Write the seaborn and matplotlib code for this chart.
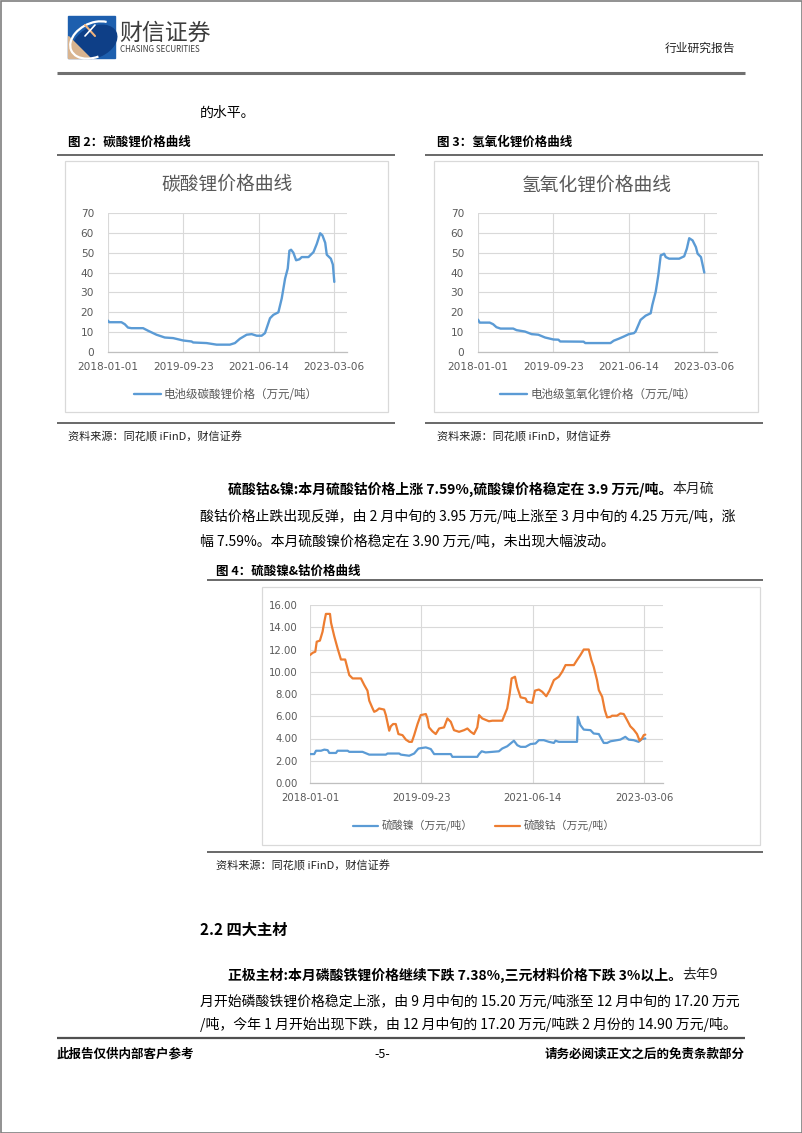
import numpy as np
import pandas as pd
import matplotlib
matplotlib.use("Agg")
import matplotlib.pyplot as plt
import seaborn as sns
from matplotlib.patches import Rectangle, Ellipse, Polygon, Arc

# ---------------- data ----------------
BASE_DATE = "2018-01-01"
x_tick_labels = ["2018-01-01", "2019-09-23", "2021-06-14", "2023-03-06"]

# days since 2018-01-01
li2co3_days = [0, 10, 112, 140, 167, 195, 293, 335, 405, 474, 544, 628, 698, 711, 823, 907, 1018, 1060,
               1102, 1158, 1200, 1242, 1283, 1311, 1353, 1381, 1423, 1451, 1479, 1501, 1515, 1529, 1548,
               1571, 1599, 1618, 1674, 1716, 1744, 1772, 1791, 1814, 1827, 1861, 1878, 1890]
li2co3_price = [15.8, 15.0, 15.0, 14.0, 12.3, 12.0, 12.0, 10.7, 8.7, 7.3, 7.0, 5.8, 5.3, 4.8, 4.5, 3.7,
                3.7, 4.5, 6.7, 8.7, 9.0, 8.2, 8.2, 9.5, 17.0, 18.7, 20.0, 27.0, 37.0, 42.0, 51.0, 51.5,
                50.0, 46.2, 46.7, 47.8, 47.8, 50.3, 54.5, 59.8, 58.7, 55.0, 49.0, 47.0, 44.0, 35.3]

lioh_days = [0, 14, 98, 126, 154, 188, 294, 322, 392, 448, 504, 560, 630, 672, 686, 882, 896, 1106,
             1134, 1176, 1218, 1260, 1302, 1316, 1358, 1400, 1442, 1456, 1484, 1506, 1526, 1540, 1554,
             1568, 1596, 1680, 1722, 1744, 1764, 1792, 1820, 1834, 1862, 1890]
lioh_price = [16.3, 14.8, 14.8, 14.0, 12.5, 11.8, 11.8, 11.0, 10.3, 9.0, 8.7, 7.3, 6.3, 6.2, 5.3, 5.2,
              4.5, 4.5, 5.7, 6.7, 7.8, 9.0, 9.5, 10.3, 16.2, 18.3, 19.5, 23.7, 30.3, 38.7, 48.7, 49.0,
              49.5, 47.8, 47.0, 47.0, 48.2, 52.0, 57.3, 56.2, 52.8, 49.5, 47.8, 40.0]

coso4_days = [0, 15, 30, 38, 56, 71, 81, 90, 113, 119, 137, 156, 175, 199, 222, 241, 288, 307, 325, 335,
              354, 363, 376, 391, 419, 429, 448, 457, 470, 485, 500, 523, 542, 561, 576, 589, 608, 626,
              655, 664, 673, 692, 711, 730, 758, 777, 796, 814, 843, 871, 890, 909, 927, 946, 956, 974,
              1012, 1031, 1087, 1115, 1129, 1140, 1159, 1172, 1191, 1219, 1228, 1257, 1272, 1294, 1313,
              1336, 1354, 1379, 1407, 1426, 1445, 1492, 1510, 1529, 1548, 1576, 1591, 1604, 1623, 1633,
              1652, 1667, 1680, 1699, 1708, 1736, 1755, 1774, 1793, 1811, 1830, 1849, 1864, 1877, 1887,
              1896]
coso4_price = [11.5, 11.7, 11.8, 12.7, 12.8, 13.6, 14.5, 15.2, 15.2, 14.4, 13.2, 12.1, 11.1, 11.1, 9.7,
               9.4, 9.4, 8.8, 8.3, 7.4, 6.7, 6.4, 6.5, 6.7, 6.6, 6.1, 4.7, 5.1, 5.3, 5.3, 4.4, 4.3, 3.9,
               3.7, 3.7, 4.3, 5.3, 6.1, 6.2, 5.8, 5.0, 4.65, 4.4, 4.9, 5.0, 5.8, 5.5, 4.75, 4.6, 4.75,
               4.9, 4.6, 4.4, 5.0, 6.1, 5.8, 5.55, 5.6, 5.6, 6.7, 8.0, 9.4, 9.55, 8.6, 7.7, 7.6, 7.3,
               7.2, 8.3, 8.4, 8.2, 7.8, 8.3, 9.25, 9.55, 10.0, 10.6, 10.6, 11.05, 11.5, 12.0, 12.0,
               11.05, 10.45, 9.25, 8.35, 7.75, 6.55, 5.9, 5.95, 6.05, 6.05, 6.25, 6.2, 5.65, 5.1, 4.8,
               4.4, 3.8, 4.0, 4.3, 4.35]

niso4_days = [0, 24, 34, 62, 81, 100, 109, 147, 156, 213, 222, 297, 335, 429, 438, 504, 514, 561, 589,
              613, 655, 683, 702, 796, 805, 946, 956, 971, 993, 1031, 1068, 1087, 1115, 1134, 1153,
              1172, 1191, 1219, 1247, 1275, 1294, 1322, 1351, 1379, 1388, 1407, 1510, 1514, 1529, 1548,
              1586, 1604, 1633, 1652, 1661, 1680, 1699, 1736, 1755, 1783, 1802, 1830, 1858, 1877, 1896]
niso4_price = [2.6, 2.6, 2.9, 2.9, 3.0, 2.95, 2.7, 2.7, 2.9, 2.9, 2.8, 2.8, 2.55, 2.55, 2.65, 2.65,
               2.55, 2.45, 2.65, 3.1, 3.2, 3.05, 2.6, 2.6, 2.35, 2.35, 2.6, 2.85, 2.75, 2.8, 2.85, 3.1,
               3.3, 3.55, 3.8, 3.4, 3.25, 3.25, 3.5, 3.55, 3.85, 3.85, 3.7, 3.6, 3.8, 3.7, 3.7, 5.95,
               5.2, 4.8, 4.75, 4.45, 4.4, 3.85, 3.6, 3.6, 3.75, 3.85, 3.9, 4.15, 3.9, 3.85, 3.7, 3.95,
               4.0]

li_yticks = [0, 10, 20, 30, 40, 50, 60, 70]
co_yticks = [0, 2, 4, 6, 8, 10, 12, 14, 16]
co_ytick_labels = ["0.00", "2.00", "4.00", "6.00", "8.00", "10.00", "12.00", "14.00", "16.00"]

# ---------------- style ----------------
sns.set_theme(style="white")
plt.rcParams["font.family"] = ["Noto Sans CJK SC", "DejaVu Sans"]
plt.rcParams["axes.unicode_minus"] = False

BLUE = "#5B9BD5"
ORANGE = "#ED7D31"
GRAY_TXT = "#595959"
GRID = "#D9D9D9"

W, H = 802, 1133
fig = plt.figure(figsize=(W / 100, H / 100), dpi=100)
page = fig.add_axes([0, 0, 1, 1])
page.set_xlim(0, W)
page.set_ylim(H, 0)
page.axis("off")
page.set_zorder(0)


def px_axes(x0, y0, x1, y1):
    ax = fig.add_axes([x0 / W, 1 - y1 / H, (x1 - x0) / W, (y1 - y0) / H])
    ax.set_zorder(2)
    return ax


def txt(x, y, s, size, weight="normal", color="black", ha="left", style="normal", va="center"):
    return page.text(x, y, s, fontsize=size, fontweight=weight, color=color, ha=ha, va=va,
                     fontstyle=style)


def rich(x, y, parts, size):
    t = txt(x, y, parts[0][0], size, parts[0][1])
    for s, w in parts[1:]:
        t = page.annotate(s, xy=(1, 0.5), xycoords=t, fontsize=size, fontweight=w,
                          ha="left", va="center")


def hline(x0, x1, y, lw=1.0, color="#404040"):
    page.plot([x0, x1], [y, y], color=color, lw=lw, solid_capstyle="butt")


# page border
page.add_patch(Rectangle((0.5, 0.5), W - 1, H - 1, fill=False, edgecolor="#7f7f7f", lw=1.2))

# ---------------- header ----------------
page.add_patch(Rectangle((68, 16), 47, 42, color="#1d5fae", zorder=1))
page.add_patch(Ellipse((95, 42), 46, 30, angle=-25, color="#0e3f87", zorder=2))
page.add_patch(Polygon([(68, 36), (68, 58), (90, 58)], closed=True, color="#d9b48f", zorder=3))
page.add_patch(Arc((94, 40), 50, 34, angle=-25, theta1=100, theta2=330, color="white", lw=1.6, zorder=4))
page.plot([85, 95], [25, 36], color="#f0b27a", lw=1.5, zorder=5)
page.plot([85, 95], [36, 25], color="white", lw=1.2, zorder=5)
txt(119, 33, "财信证券", 16.5, color="#3d3d3d")
txt(120, 50, "CHASING SECURITIES", 5.8, color="#3d3d3d")
txt(735, 48, "行业研究报告", 8.5, ha="right", color="#222222")
hline(57, 745, 73, lw=2.2, color="#707070")

txt(200, 113, "的水平。", 10)

# ---------------- figure 2 / 3 captions ----------------
txt(68, 142, "图 2：碳酸锂价格曲线", 9, weight="bold")
txt(437, 142, "图 3：氢氧化锂价格曲线", 9, weight="bold")
hline(57, 395, 155, lw=1.1)
hline(425, 763, 155, lw=1.1)

# chart boxes
page.add_patch(Rectangle((65, 161), 323, 251, fill=False, edgecolor=GRID, lw=0.9))
page.add_patch(Rectangle((434, 161), 324, 251, fill=False, edgecolor=GRID, lw=0.9))
page.add_patch(Rectangle((262, 587), 498, 258, fill=False, edgecolor=GRID, lw=0.9))

hline(57, 395, 423, lw=1.1)
hline(425, 763, 423, lw=1.1)
txt(68, 437, "资料来源：同花顺 iFinD，财信证券", 8, style="italic", color="#222222")
txt(437, 437, "资料来源：同花顺 iFinD，财信证券", 8, style="italic", color="#222222")

base = pd.Timestamp(BASE_DATE)
tick_dates = pd.to_datetime(x_tick_labels)
x_end = pd.Timestamp("2023-06-20")


def style_axes(ax, yticks, ylabels, ypad, xpad, size):
    ax.set_xlim(base, x_end)
    ax.set_ylim(yticks[0], yticks[-1])
    ax.set_xticks(tick_dates)
    ax.set_xticklabels(x_tick_labels)
    ax.set_yticks(yticks)
    ax.set_yticklabels(ylabels)
    ax.set_xlabel("")
    ax.set_ylabel("")
    ax.set_facecolor("none")
    for s in ["left", "top", "right"]:
        ax.spines[s].set_visible(False)
    ax.spines["bottom"].set_color("#BFBFBF")
    ax.spines["bottom"].set_linewidth(0.9)
    ax.grid(True, color=GRID, lw=0.8)
    ax.set_axisbelow(True)
    ax.tick_params(length=0, colors=GRAY_TXT, labelsize=size)
    ax.tick_params(axis="y", pad=ypad)
    ax.tick_params(axis="x", pad=xpad)
    for lab in ax.get_xticklabels() + ax.get_yticklabels():
        lab.set_fontfamily("DejaVu Sans")


def series_df(days, vals):
    return pd.DataFrame({"date": base + pd.to_timedelta(days, unit="D"), "value": vals})


# chart 1
ax1 = px_axes(108, 213, 347, 352)
sns.lineplot(data=series_df(li2co3_days, li2co3_price), x="date", y="value", ax=ax1, color=BLUE,
             linewidth=1.7, label="电池级碳酸锂价格（万元/吨）", legend=False)
style_axes(ax1, li_yticks, [str(v) for v in li_yticks], 10, 7, 7.6)
txt(227, 185, "碳酸锂价格曲线", 13.5, color=GRAY_TXT, ha="center")
h, l = ax1.get_legend_handles_labels()
ax1.legend(h, l, loc="center", bbox_to_anchor=(226 / W, 1 - 395 / H), bbox_transform=fig.transFigure,
           frameon=False, fontsize=8.3, labelcolor=GRAY_TXT, handlelength=2.3, handletextpad=0.3)

# chart 2
ax2 = px_axes(478, 213, 717, 352)
sns.lineplot(data=series_df(lioh_days, lioh_price), x="date", y="value", ax=ax2, color=BLUE,
             linewidth=1.7, label="电池级氢氧化锂价格（万元/吨）", legend=False)
style_axes(ax2, li_yticks, [str(v) for v in li_yticks], 10, 7, 7.6)
txt(597, 185, "氢氧化锂价格曲线", 13.5, color=GRAY_TXT, ha="center")
h, l = ax2.get_legend_handles_labels()
ax2.legend(h, l, loc="center", bbox_to_anchor=(598 / W, 1 - 395 / H), bbox_transform=fig.transFigure,
           frameon=False, fontsize=8.3, labelcolor=GRAY_TXT, handlelength=2.3, handletextpad=0.3)

# ---------------- paragraph 1 ----------------
rich(228, 489, [("硫酸钴&镍:本月硫酸钴价格上涨 7.59%,硫酸镍价格稳定在 3.9 万元/吨。", "bold"),
                ("本月硫", "normal")], 10)
txt(200, 516, "酸钴价格止跌出现反弹，由 2 月中旬的 3.95 万元/吨上涨至 3 月中旬的 4.25 万元/吨，涨", 10)
txt(200, 541, "幅 7.59%。本月硫酸镍价格稳定在 3.90 万元/吨，未出现大幅波动。", 10)

# ---------------- figure 4 ----------------
txt(216, 571, "图 4：硫酸镍&钴价格曲线", 9, weight="bold")
hline(207, 763, 580, lw=1.1)

ax3 = px_axes(310, 605, 663, 783)
sns.lineplot(data=series_df(niso4_days, niso4_price), x="date", y="value", ax=ax3, color=BLUE,
             linewidth=1.6, label="硫酸镍（万元/吨）", legend=False)
sns.lineplot(data=series_df(coso4_days, coso4_price), x="date", y="value", ax=ax3, color=ORANGE,
             linewidth=1.6, label="硫酸钴（万元/吨）", legend=False)
style_axes(ax3, co_yticks, co_ytick_labels, 9, 7, 7.3)
h, l = ax3.get_legend_handles_labels()
ax3.legend(h, l, loc="center", ncol=2, bbox_to_anchor=(484 / W, 1 - 826 / H),
           bbox_transform=fig.transFigure, frameon=False, fontsize=7.8, labelcolor=GRAY_TXT,
           handlelength=2.3, handletextpad=0.4, columnspacing=2.0)

hline(207, 763, 852, lw=1.1)
txt(216, 866, "资料来源：同花顺 iFinD，财信证券", 8, style="italic", color="#222222")

# ---------------- section 2.2 ----------------
txt(200, 930, "2.2 四大主材", 11, weight="bold")
rich(228, 975, [("正极主材:本月磷酸铁锂价格继续下跌 7.38%,三元材料价格下跌 3%以上。", "bold"),
                ("去年9", "normal")], 10)
txt(200, 1001, "月开始磷酸铁锂价格稳定上涨，由 9 月中旬的 15.20 万元/吨涨至 12 月中旬的 17.20 万元", 10)
txt(200, 1025, "/吨，今年 1 月开始出现下跌，由 12 月中旬的 17.20 万元/吨跌 2 月份的 14.90 万元/吨。", 10)

# ---------------- footer ----------------
hline(57, 745, 1038, lw=1.6, color="#505050")
txt(57, 1054, "此报告仅供内部客户参考", 9, weight="bold")
txt(382, 1054, "-5-", 9, ha="center")
txt(745, 1054, "请务必阅读正文之后的免责条款部分", 9, weight="bold", ha="right")

fig.savefig("out.png", dpi=100)
